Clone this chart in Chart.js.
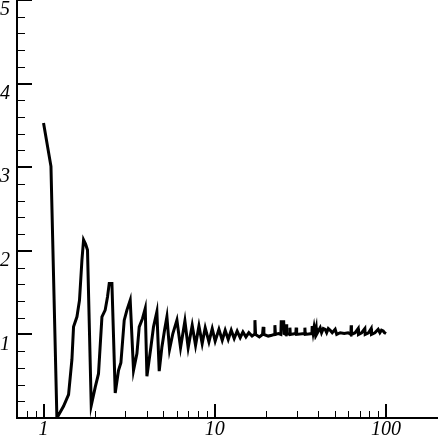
<!DOCTYPE html>
<html>
<head>
<meta charset="utf-8">
<script src="https://cdn.jsdelivr.net/npm/chart.js@4"></script>
<style>
  html, body { margin: 0; padding: 0; background: #fff; }
  #wrap { width: 438px; height: 440px; }
</style>
</head>
<body>
<div id="wrap"><canvas id="myChart" width="438" height="440"></canvas></div>
<script>
// curve (x on a log axis)
const xVals = [
  1.0, 1.105, 1.197, 1.308, 1.40, 1.465, 1.497, 1.567, 1.622, 1.676, 1.713, 1.76, 1.806,
  1.899, 2.004, 2.094, 2.193, 2.29, 2.364, 2.419, 2.508, 2.622, 2.741, 2.83, 2.959, 3.068,
  3.207, 3.353, 3.51, 3.62, 3.784, 3.925, 4.015, 4.236, 4.387, 4.59, 4.736, 4.912, 5.087,
  5.253, 5.44, 5.69, 6.01, 6.31, 6.69, 6.99, 7.38, 7.72, 8.08, 8.44, 8.79, 9.24, 9.66,
  10.05, 10.57, 11.05, 11.5, 11.98, 12.47, 12.98, 13.51, 14.07, 14.6, 15.2, 15.8, 16.5,
  17.0, 17.15, 17.3, 18.2, 19.0, 19.17, 19.35, 20.5, 21.5, 22.3, 22.43, 22.6, 23.5, 24.3,
  24.42, 25.25, 25.4, 26.0, 26.12, 26.3, 27.3, 27.45, 27.6, 29.7, 29.87, 30.05, 33.4,
  33.57, 33.75, 36.9, 37.04, 37.5, 38.0, 38.5, 39.08, 39.3, 41.24, 42.0, 43.0, 44.1, 45.0,
  46.0, 47.18, 48.5, 50.45, 51.5, 54.0, 57.0, 60.0, 62.3, 62.56, 62.8, 66.0, 68.74, 69.0,
  72.0, 75.17, 75.5, 79.0, 81.85, 82.2, 86.0, 89.91, 92.0, 94.0, 96.2, 98.0, 100.0
];
const yVals = [
  3.53, 3.01, 0.0, 0.14, 0.28, 0.70, 1.09, 1.21, 1.41, 1.89, 2.13, 2.08, 2.01,
  0.15, 0.37, 0.53, 1.21, 1.29, 1.45, 1.61, 1.61, 0.30, 0.57, 0.66, 1.17, 1.29,
  1.41, 0.57, 0.77, 1.09, 1.19, 1.31, 0.50, 0.85, 1.09, 1.27, 0.56, 0.85, 1.05,
  1.21, 0.82, 1.01, 1.17, 0.84, 1.16, 0.84, 1.11, 0.87, 1.10, 0.89, 1.08, 0.91, 1.07,
  0.92, 1.06, 0.93, 1.05, 0.94, 1.05, 0.95, 1.04, 0.96, 1.03, 0.97, 1.02, 0.98,
  1.0, 1.17, 1.0, 0.97, 1.0, 1.09, 1.0, 0.98, 0.99, 1.0, 1.11, 1.0, 1.01, 1.0,
  1.15, 1.15, 1.01, 1.0, 1.12, 1.0, 1.01, 1.08, 1.0, 1.01, 1.08, 1.0, 1.01,
  1.08, 1.0, 1.01, 1.10, 1.02, 1.09, 1.02, 1.08, 1.0, 1.08, 1.02, 1.07, 1.06, 1.02,
  1.07, 1.05, 1.02, 1.06, 1.0, 1.02, 1.01, 1.02, 1.0, 1.11, 1.0, 1.02, 1.07, 1.0,
  1.02, 1.07, 1.0, 1.02, 1.07, 1.0, 1.02, 1.06, 1.02, 1.05, 1.04, 1.02, 1.01
];

// axes
const xMajor = [1, 10, 100];
const xMinor = [0.8, 0.9, 2, 3, 4, 5, 6, 7, 8, 9, 20, 30, 40, 50, 60, 70, 80, 90, 200];
const yMajor = [1, 2, 3, 4, 5];
const yMinor = [0.2, 0.4, 0.6, 0.8, 1.2, 1.4, 1.6, 1.8, 2.2, 2.4, 2.6, 2.8,
  3.2, 3.4, 3.6, 3.8, 4.2, 4.4, 4.6, 4.8];

const pts = xVals.map((x, i) => ({ x: x, y: yVals[i] }));

// tick marks point into the plot, so draw them by hand
const insideTicks = {
  id: 'insideTicks',
  afterDraw(chart) {
    const { ctx, chartArea, scales } = chart;
    const x = scales.x, y = scales.y;
    ctx.save();
    ctx.strokeStyle = '#000';
    const xTick = (v, len, w) => {
      const px = Math.round(x.getPixelForValue(v)) + (w % 2 ? 0.5 : 0);
      ctx.lineWidth = w;
      ctx.beginPath();
      ctx.moveTo(px, chartArea.bottom);
      ctx.lineTo(px, chartArea.bottom - len);
      ctx.stroke();
    };
    const yTick = (v, len, w) => {
      const py = Math.round(y.getPixelForValue(v)) + (w % 2 ? 0.5 : 0);
      ctx.lineWidth = w;
      ctx.beginPath();
      ctx.moveTo(chartArea.left, py);
      ctx.lineTo(chartArea.left + len, py);
      ctx.stroke();
    };
    xMajor.forEach(v => xTick(v, 14, 2));
    xMinor.forEach(v => xTick(v, 7, 1));
    yMajor.forEach(v => yTick(v, 15, 2));
    yMinor.forEach(v => yTick(v, 8, 1));
    ctx.restore();
  }
};

const tickFont = { family: '"Liberation Serif", "DejaVu Serif", serif', size: 20, style: 'italic', lineHeight: 1 };

new Chart(document.getElementById('myChart').getContext('2d'), {
  type: 'line',
  data: {
    datasets: [{
      data: pts,
      borderColor: '#000',
      borderWidth: 3,
      pointRadius: 0,
      tension: 0,
      fill: false
    }]
  },
  options: {
    responsive: false,
    animation: false,
    layout: { autoPadding: false, padding: 0 },
    plugins: { legend: { display: false }, tooltip: { enabled: false } },
    scales: {
      x: {
        type: 'logarithmic',
        min: 0.7,
        max: 201,
        afterBuildTicks: (s) => { s.ticks = xMajor.map(v => ({ value: v })); },
        afterFit: (s) => {
          s.height = 22;
          s.paddingLeft = 0;
          s.paddingRight = 0;
        },
        ticks: {
          autoSkip: false,
          maxRotation: 0,
          padding: 2,
          color: '#000',
          font: tickFont,
          callback: (v) => String(v)
        },
        grid: { display: false, drawTicks: false },
        border: { display: true, color: '#000', width: 2 }
      },
      y: {
        type: 'linear',
        min: 0,
        max: 5,
        afterBuildTicks: (s) => { s.ticks = yMajor.map(v => ({ value: v })); },
        afterFit: (s) => {
          s.width = 17;
          s.paddingTop = 0;
          s.paddingBottom = 0;
        },
        ticks: {
          align: 'start',
          padding: 7,
          color: '#000',
          font: tickFont,
          callback: (v) => String(v)
        },
        grid: { display: false, drawTicks: false },
        border: { display: true, color: '#000', width: 2 }
      }
    }
  },
  plugins: [insideTicks]
});
</script>
</body>
</html>
